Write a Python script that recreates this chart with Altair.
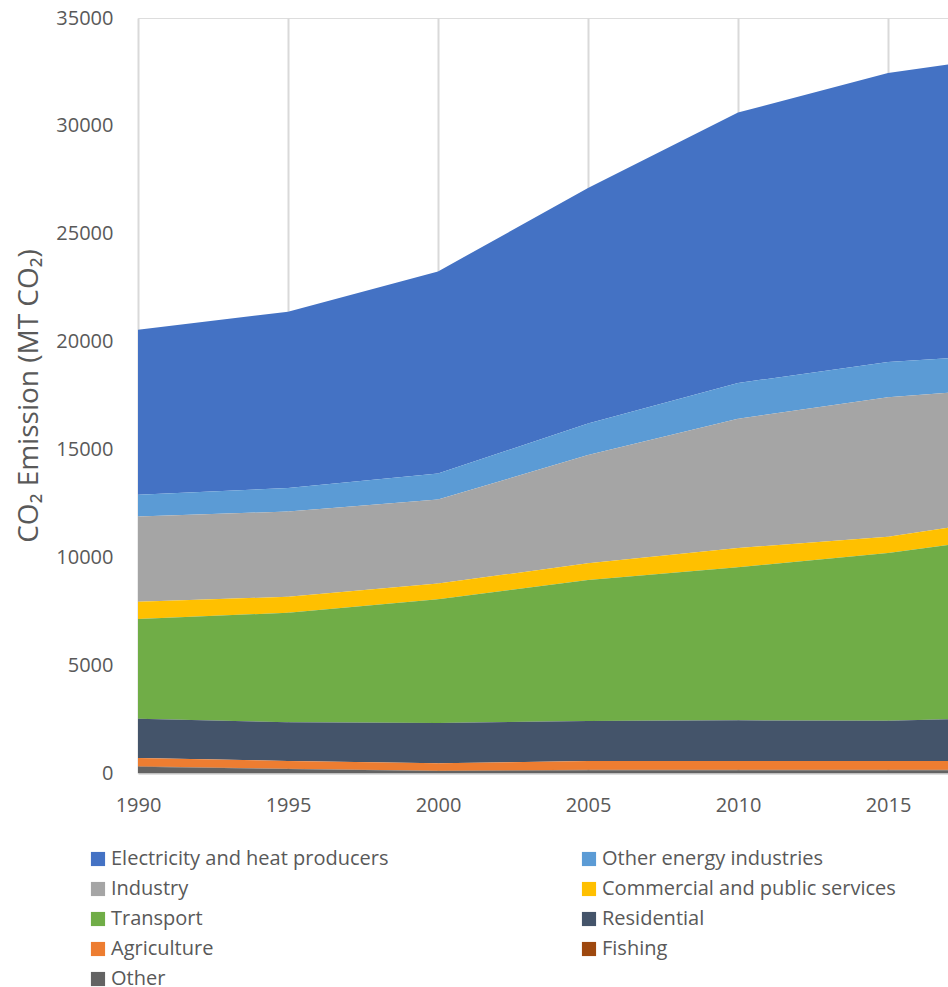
import altair as alt
import pandas as pd

years = [1990, 1995, 2000, 2005, 2010, 2015, 2017]

sectors = [
    "Electricity and heat producers",
    "Other energy industries",
    "Industry",
    "Commercial and public services",
    "Transport",
    "Residential",
    "Agriculture",
    "Fishing",
    "Other",
]
colors = ["#4472C4", "#5B9BD5", "#A5A5A5", "#FFC000", "#70AD47",
          "#44546A", "#ED7D31", "#9E480E", "#636363"]

electricity = [7650, 8170, 9370, 10920, 12540, 13400, 13620]
other_energy = [1010, 1090, 1200, 1460, 1660, 1630, 1600]
industry = [3950, 3950, 3900, 5020, 5990, 6470, 6260]
commercial = [800, 740, 730, 770, 890, 750, 800]
transport = [4620, 5080, 5730, 6540, 7100, 7780, 8080]
residential = [1830, 1790, 1870, 1850, 1880, 1860, 1930]
agriculture = [380, 360, 340, 410, 410, 410, 410]
fishing = [20, 20, 20, 20, 20, 20, 20]
other = [290, 180, 90, 130, 130, 130, 130]

series = [electricity, other_energy, industry, commercial, transport,
          residential, agriculture, fishing, other]

rows = []
for i, (name, vals) in enumerate(zip(sectors, series)):
    for y, v in zip(years, vals):
        # stacking order: bottom = Other ... top = Electricity
        rows.append({"Year": y, "Sector": name, "Value": v,
                     "stackorder": len(sectors) - i})
df = pd.DataFrame(rows)

FONT = "Open Sans"
GREY = "#595959"

chart = alt.Chart(df).mark_area(opacity=1).encode(
    x=alt.X("Year:Q",
            scale=alt.Scale(domain=[1990, 2017], nice=False, zero=False),
            axis=alt.Axis(values=[1990, 1995, 2000, 2005, 2010, 2015],
                          format="d", title=None, grid=True,
                          gridColor="#D9D9D9", gridWidth=2,
                          domainColor="#BFBFBF", domainWidth=2,
                          ticks=False, labelFontSize=20, labelColor=GREY,
                          labelFont=FONT, labelPadding=22,
                          labelFlush=False)),
    y=alt.Y("Value:Q", stack="zero",
            scale=alt.Scale(domain=[0, 35000], nice=False),
            axis=alt.Axis(values=list(range(0, 35001, 5000)), format="d",
                          title="CO₂ Emission (MT CO₂)", grid=False,
                          domain=False, ticks=False, labelFontSize=20,
                          labelColor=GREY, labelFont=FONT, labelPadding=25,
                          labelFlush=False,
                          titleFont=FONT, titleFontSize=28,
                          titleFontWeight="normal", titleColor=GREY,
                          titlePadding=12)),
    color=alt.Color("Sector:N",
                    scale=alt.Scale(domain=sectors, range=colors),
                    legend=alt.Legend(title=None, orient="none",
                                      direction="horizontal",
                                      legendX=-50, legendY=831,
                                      columns=2, columnPadding=190,
                                      rowPadding=10, symbolType="square",
                                      symbolSize=200, symbolStrokeWidth=0,
                                      labelFont=FONT, labelFontSize=20,
                                      labelColor=GREY, labelOffset=3,
                                      labelLimit=400)),
    order=alt.Order("stackorder:Q", sort="ascending"),
).properties(
    width=810, height=755,
    padding={"left": 138, "top": 18, "right": 0, "bottom": 214},
    autosize="none",
).configure_view(stroke=None).configure(background="white")

chart.save("out.html", embed_options={"renderer": "svg", "actions": False})
